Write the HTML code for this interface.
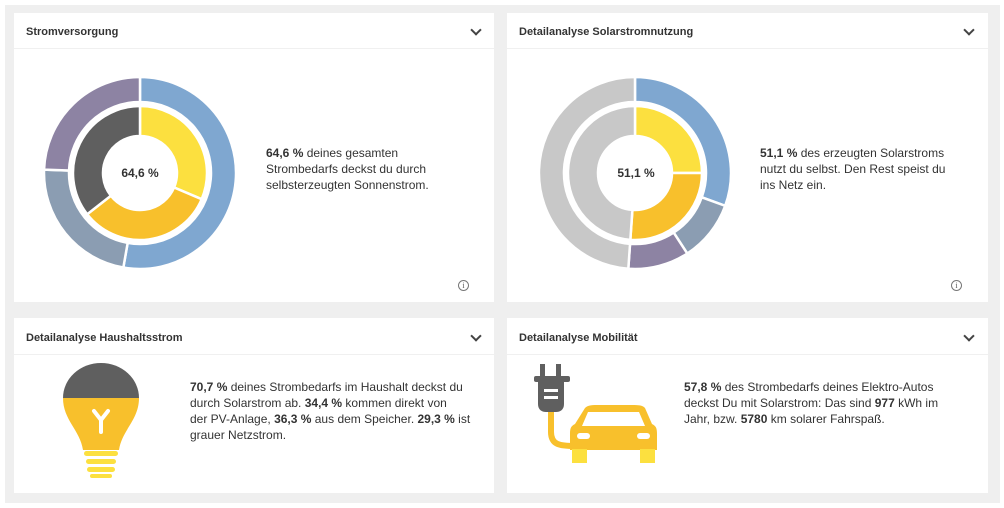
<!DOCTYPE html>
<html><head><meta charset="utf-8"><style>
body{margin:0;width:1004px;height:508px;background:#fff;font-family:"Liberation Sans",sans-serif;position:relative;overflow:hidden}
.bg{position:absolute;left:5px;top:5px;width:995px;height:498px;background:#efefef}
.card{position:absolute;background:#fff}
.hd{position:absolute;left:12px;top:13px;font-size:11px;font-weight:bold;color:#333}
.ln{position:absolute;left:0;right:0;height:1px;background:#f0f0f0}
.chev{position:absolute;width:6px;height:6px;border-right:2px solid #444;border-bottom:2px solid #444;transform:rotate(45deg)}
.tx{position:absolute;font-size:12px;line-height:16px;color:#333}
.info{position:absolute;width:9px;height:9px;border:1px solid #777;border-radius:50%;font-size:8px;line-height:9px;text-align:center;color:#555;font-family:"Liberation Serif",serif}
svg{position:absolute}
</style></head><body>
<div class="bg"></div>
<div class="card" style="left:14px;top:13px;width:480px;height:289px">
 <div class="hd">Stromversorgung</div><div class="chev" style="left:458px;top:13px"></div>
 <div class="ln" style="top:35px"></div>
 <div class="tx" style="left:252px;top:132px"><b>64,6 %</b> deines gesamten<br>Strombedarfs deckst du durch<br>selbsterzeugten Sonnenstrom.</div>
</div>
<div class="card" style="left:507px;top:13px;width:481px;height:289px">
 <div class="hd">Detailanalyse Solarstromnutzung</div><div class="chev" style="left:458px;top:13px"></div>
 <div class="ln" style="top:35px"></div>
 <div class="tx" style="left:253px;top:132px"><b>51,1 %</b> des erzeugten Solarstroms<br>nutzt du selbst. Den Rest speist du<br>ins Netz ein.</div>
</div>
<div class="info" style="left:458px;top:280px">i</div>
<div class="info" style="left:951px;top:280px">i</div>
<div class="card" style="left:14px;top:318px;width:480px;height:175px">
 <div class="hd" style="top:14px">Detailanalyse Haushaltsstrom</div><div class="chev" style="left:458px;top:14px"></div>
 <div class="ln" style="top:36px"></div>
 <div class="tx" style="left:176px;top:61px"><b>70,7 %</b> deines Strombedarfs im Haushalt deckst du<br>durch Solarstrom ab. <b>34,4 %</b> kommen direkt von<br>der PV-Anlage, <b>36,3 %</b> aus dem Speicher. <b>29,3 %</b> ist<br>grauer Netzstrom.</div>
</div>
<div class="card" style="left:507px;top:318px;width:481px;height:175px">
 <div class="hd" style="top:14px">Detailanalyse Mobilität</div><div class="chev" style="left:458px;top:14px"></div>
 <div class="ln" style="top:36px"></div>
 <div class="tx" style="left:177px;top:61px"><b>57,8 %</b> des Strombedarfs deines Elektro-Autos<br>deckst Du mit Solarstrom: Das sind <b>977</b> kWh im<br>Jahr, bzw. <b>5780</b> km solarer Fahrspaß.</div>
</div>
<svg width="1004" height="508" style="left:0;top:0">
<g id="d1"></g><g id="d2"></g>
<text x="140" y="177" font-size="12" font-weight="bold" fill="#333" text-anchor="middle" font-family="Liberation Sans">64,6 %</text>
<text x="636" y="177" font-size="12" font-weight="bold" fill="#333" text-anchor="middle" font-family="Liberation Sans">51,1 %</text>
<path d="M63,398 A38,35 0 0 1 139,398 Z" fill="#5f5f5f"/>
<path d="M63,398 L139,398 C139,420 122,430 119,450 L83,450 C80,430 63,420 63,398 Z" fill="#f8c02c"/>
<rect x="84" y="451" width="34" height="5" rx="2.5" fill="#fce03f"/>
<rect x="86" y="459" width="30" height="5" rx="2.5" fill="#fce03f"/>
<rect x="87" y="467" width="28" height="5" rx="2.5" fill="#fce03f"/>
<rect x="90" y="474" width="22" height="4" rx="2" fill="#fce03f"/>
<path d="M94,411 L101,420 L108,411 M101,420 L101,432" stroke="#fff" stroke-width="4" fill="none" stroke-linecap="round"/>
<rect x="540" y="364" width="5" height="14" fill="#5f5f5f"/><rect x="556" y="364" width="5" height="14" fill="#5f5f5f"/>
<rect x="534" y="376" width="36" height="6" rx="2" fill="#5f5f5f"/>
<path d="M538,382 L564,382 L564,404 C564,410 560,412 556,412 L546,412 C542,412 538,410 538,404 Z" fill="#5f5f5f"/>
<rect x="544" y="389" width="14" height="3" fill="#fff"/><rect x="544" y="396" width="14" height="3" fill="#fff"/>
<path d="M551,412 L551,432 C551,445 560,446 575,446" stroke="#f8c02c" stroke-width="6" fill="none"/>
<path d="M585,408 C588,405 592,405 600,405 L630,405 C638,405 642,405 645,408 L652,424 C656,426 657,428 657,434 L657,450 L570,450 L570,434 C570,428 571,426 575,424 Z" fill="#f8c02c"/>
<rect x="572" y="449" width="15" height="14" fill="#fce03f"/><rect x="640" y="449" width="15" height="14" fill="#fce03f"/>
<path d="M588,412 L639,412 L645,426 L582,426 Z" fill="#fff"/>
<rect x="577" y="433" width="13" height="6" rx="3" fill="#fff"/><rect x="637" y="433" width="13" height="6" rx="3" fill="#fff"/>
</svg>
<script>
function arc(cx,cy,r1,r2,a,b,c){a=a*Math.PI/180;b=b*Math.PI/180;
function p(r,t){return (cx+r*Math.sin(t)).toFixed(2)+","+(cy-r*Math.cos(t)).toFixed(2)}
var l=(b-a)>Math.PI?1:0;
return '<path d="M'+p(r2,a)+' A'+r2+','+r2+' 0 '+l+' 1 '+p(r2,b)+' L'+p(r1,b)+' A'+r1+','+r1+' 0 '+l+' 0 '+p(r1,a)+' Z" fill="'+c+'" stroke="#fff" stroke-width="2.5"/>';}
var s='';
[[0,190,'#7fa7d0'],[190,272,'#8b9db2'],[272,360,'#8d83a3']].forEach(function(d){s+=arc(140,173,71,96,d[0],d[1],d[2])});
[[0,113,'#fce03f'],[113,232,'#f8c02c'],[232,360,'#5f5f5f']].forEach(function(d){s+=arc(140,173,37,67,d[0],d[1],d[2])});
document.getElementById('d1').innerHTML=s;s='';
[[0,110,'#7fa7d0'],[110,147,'#8b9db2'],[147,184,'#8d83a3'],[184,360,'#c8c8c8']].forEach(function(d){s+=arc(635,173,71,96,d[0],d[1],d[2])});
[[0,90,'#fce03f'],[90,184,'#f8c02c'],[184,360,'#c8c8c8']].forEach(function(d){s+=arc(635,173,37,67,d[0],d[1],d[2])});
document.getElementById('d2').innerHTML=s;
</script>
</body></html>
